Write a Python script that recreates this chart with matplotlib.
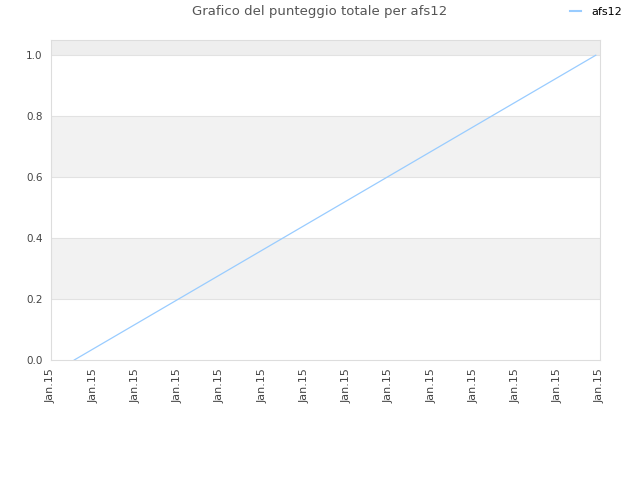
import matplotlib
matplotlib.use("Agg")
import matplotlib.pyplot as plt

# data
times = [0.55, 12.9]          # position along the time axis (tick units)
score = [0.0, 1.0]
tick_pos = list(range(14))
tick_labels = ["Jan.15"] * 14
series_name = "afs12"

plt.rcParams['font.family'] = ['DejaVu Sans']

fig = plt.figure(figsize=(6.4, 4.8), dpi=100)
ax = fig.add_axes([51 / 640, 1 - 360 / 480, 549 / 640, 320 / 480])

ymax = 1.05
# alternating bands
band_colors = ['white', '#f2f2f2', 'white', '#f2f2f2', 'white', '#eeeeee']
edges = [0, 0.2, 0.4, 0.6, 0.8, 1.0, ymax]
for i, c in enumerate(band_colors):
    ax.axhspan(edges[i], edges[i + 1], color=c, zorder=0, lw=0)
for y in [0.2, 0.4, 0.6, 0.8, 1.0]:
    ax.axhline(y, color='#e2e2e2', lw=0.8, zorder=1)

line, = ax.plot(times, score, color='#99ccff', lw=0.9, label=series_name, zorder=3)

ax.set_xlim(0, 13)
ax.set_ylim(0, ymax)
ax.set_xticks(tick_pos)
ax.set_xticklabels(tick_labels, rotation=90, fontsize=8, color='#444444')
ax.set_yticks([0, 0.2, 0.4, 0.6, 0.8, 1.0])
ax.set_yticklabels(['0.0', '0.2', '0.4', '0.6', '0.8', '1.0'], fontsize=7.5, color='#444444')
ax.tick_params(length=0, pad=6)
for s in ax.spines.values():
    s.set_color('#dddddd')

fig.text(0.5, 1 - 12 / 480, "Grafico del punteggio totale per afs12", ha='center', va='center',
         fontsize=9.5, color='#555555')
leg = fig.legend(handles=[line], loc='center', bbox_to_anchor=(596 / 640, 1 - 12 / 480),
                 frameon=False, fontsize=8, handlelength=1.0, handletextpad=1.0)
leg.get_lines()[0].set_linewidth(1.5)

fig.savefig("out.png", dpi=100)
